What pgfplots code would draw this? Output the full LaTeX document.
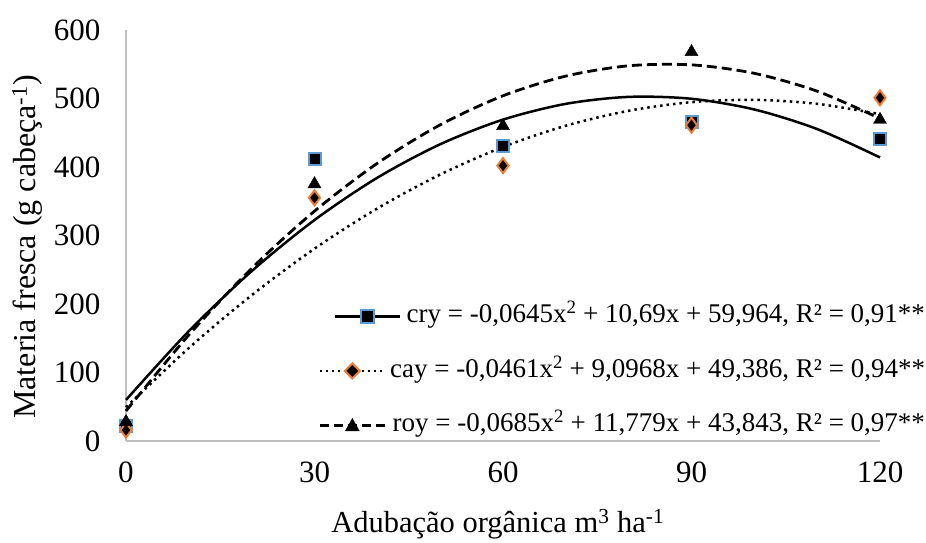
\documentclass[border=0pt]{standalone}
\usepackage{fontspec}
\setmainfont{Liberation Serif}
\usepackage{pgfplots}
\pgfplotsset{compat=1.18}

\definecolor{cblue}{HTML}{5B9BD5}
\definecolor{corange}{HTML}{ED7D31}
\definecolor{axgray}{HTML}{BFBFBF}

\pgfplotsset{
  crylegend/.style={legend image code/.code={
      \path[draw=none, fill=none] (0pt,-7pt) rectangle (65pt,7pt);
      \draw[overlay, black, line width=2.5pt] (15pt,0pt) -- (80pt,0pt);
      \draw[overlay, draw=cblue, fill=black, line width=2pt] (41pt,-6.5pt) rectangle (54pt,6.5pt);}},
  caylegend/.style={legend image code/.code={
      \draw[black, line width=2.5pt, dash pattern=on 2.5pt off 3.5pt] (0pt,0pt) -- (65pt,0pt);
      \draw[draw=corange, fill=black, line width=2pt] (32.5pt,-7.5pt) -- (40pt,0pt) -- (32.5pt,7.5pt) -- (25pt,0pt) -- cycle;}},
  roylegend/.style={legend image code/.code={
      \draw[black, line width=2.5pt, dash pattern=on 9pt off 5pt] (0pt,0pt) -- (65pt,0pt);
      \fill[black] (32.5pt,7pt) -- (39.5pt,-5.5pt) -- (25.5pt,-5.5pt) -- cycle;}},
}

\begin{document}
\begin{tikzpicture}
\useasboundingbox (-126pt,-101pt) rectangle (800pt,441pt);
\begin{axis}[
    at={(0pt,0pt)}, anchor=origin,
    scale only axis, width=754pt, height=411pt,
    xmin=0, xmax=120, ymin=0, ymax=600,
    xtick={0,30,60,90,120}, ytick={0,100,200,300,400,500,600},
    axis lines*=left,
    axis line style={draw=axgray, line width=1.5pt},
    major tick length=0pt,
    clip=false,
    /pgf/number format/assume math mode=true,
    tick label style={font=\fontsize{31}{36}\selectfont},
    yticklabel style={xshift=-22pt},
    xticklabel style={yshift=-17pt},
    xlabel={Adubação orgânica m\textsuperscript{3} ha\textsuperscript{-1}},
    ylabel={Materia fresca (g cabeça\textsuperscript{-1})},
    xlabel style={font=\fontsize{30.5}{36}\selectfont, at={(axis description cs:0.493,-0.2238)}, anchor=base},
    ylabel style={font=\fontsize{32}{38}\selectfont, at={(axis description cs:-0.1194,0.472)}, anchor=base},
    legend style={draw=none, fill=none, inner sep=0pt, outer sep=0pt,
      at={(axis description cs:1.0597,0.3358)}, anchor=north east,
      font=\fontsize{27}{32}\selectfont,
      nodes={inner sep=0pt, text height=20pt, text depth=7pt},
      row sep=27.5pt, column sep=4pt},
    legend cell align=right,
  ]
  % fitted curves (values of the equations in the legend)
  \addplot[black, line width=2.5pt, smooth, forget plot] coordinates {
    (0,59.96) (10,160.41) (20,247.96) (30,322.61) (40,384.36) (50,433.21) (60,469.16)
    (70,492.21) (80,502.36) (90,499.61) (100,483.96) (110,455.41) (120,413.96)};
  \addplot[black, line width=2.5pt, dash pattern=on 2.5pt off 4pt, smooth, forget plot] coordinates {
    (0,49.39) (10,135.74) (20,212.88) (30,280.80) (40,339.50) (50,388.98) (60,429.23)
    (70,460.27) (80,482.09) (90,494.69) (100,498.07) (110,492.22) (120,477.16)};
  \addplot[black, line width=2.8pt, dash pattern=on 10pt off 5pt, smooth, forget plot] coordinates {
    (0,43.84) (10,154.78) (20,252.02) (30,335.56) (40,405.40) (50,461.54) (60,503.98)
    (70,532.72) (80,547.76) (90,549.10) (100,536.74) (110,510.68) (120,470.92)};
  % observed values
  \addplot[only marks, mark=square*, mark size=6pt, mark options={draw=cblue, fill=black, line width=2pt}, forget plot]
    coordinates {(0,22) (30,411) (60,431) (90,466) (120,441)};
  \addplot[only marks, mark=diamond*, mark size=7.5pt, mark options={draw=corange, fill=black, line width=2pt}, forget plot]
    coordinates {(0,16) (30,355) (60,402) (90,461) (120,501)};
  \addplot[only marks, mark=triangle*, mark size=7.5pt, mark options={draw=black, fill=black}, forget plot]
    coordinates {(0,28) (30,375) (60,460) (90,568) (120,469)};
  \addlegendimage{crylegend}
  \addlegendentry{cry = -0,0645x\textsuperscript{2} + 10,69x + 59,964, R² = 0,91**}
  \addlegendimage{caylegend}
  \addlegendentry{cay = -0,0461x\textsuperscript{2} + 9,0968x + 49,386, R² = 0,94**}
  \addlegendimage{roylegend}
  \addlegendentry{roy = -0,0685x\textsuperscript{2} + 11,779x + 43,843, R² = 0,97**}
\end{axis}
\end{tikzpicture}
\end{document}
